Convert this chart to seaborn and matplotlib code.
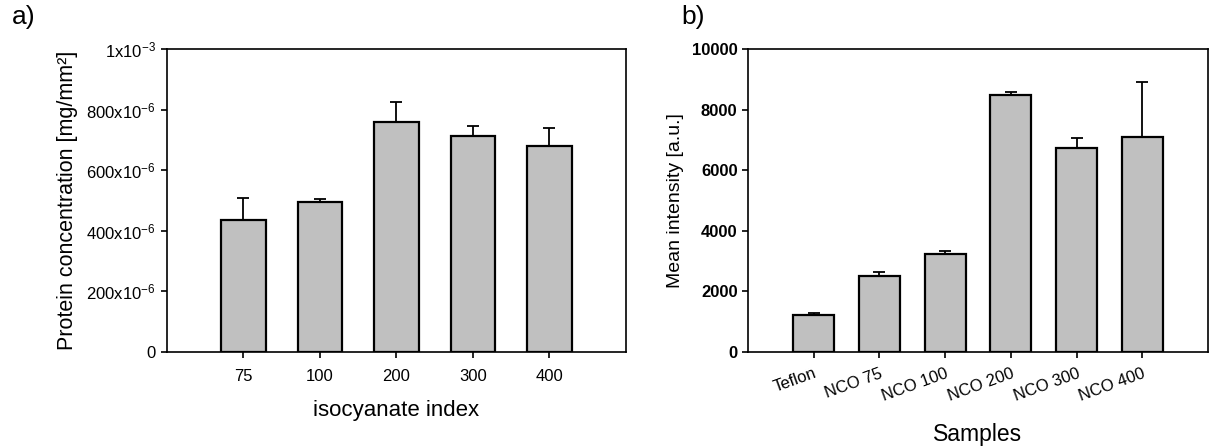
import matplotlib
matplotlib.use("Agg")
import matplotlib.pyplot as plt
import seaborn as sns
import numpy as np
import pandas as pd

# ---- data ----
iso_index = ["75", "100", "200", "300", "400"]
protein_conc = [437e-6, 495e-6, 760e-6, 712e-6, 680e-6]
protein_err = [72e-6, 9e-6, 64e-6, 35e-6, 58e-6]
protein_ticks = [0, 200e-6, 400e-6, 600e-6, 800e-6, 1e-3]
protein_ticklabels = ["0", "200x10$^{-6}$", "400x10$^{-6}$", "600x10$^{-6}$",
                      "800x10$^{-6}$", "1x10$^{-3}$"]

samples = ["Teflon", "NCO 75", "NCO 100", "NCO 200", "NCO 300", "NCO 400"]
intensity = [1232, 2520, 3245, 8480, 6720, 7107]
intensity_err = [55, 110, 100, 110, 352, 1815]
intensity_ticks = [0, 2000, 4000, 6000, 8000, 10000]

sns.set_style("white")
plt.rcParams["font.family"] = ["Liberation Sans", "DejaVu Sans"]
plt.rcParams["mathtext.default"] = "regular"
for k in ("text.color", "axes.labelcolor", "xtick.color", "ytick.color"):
    plt.rcParams[k] = "black"

BAR = "#c0c0c0"
fig = plt.figure(figsize=(12.11, 4.46), dpi=100)
ax1 = fig.add_axes([0.1379, 0.2108, 0.3790, 0.6794])
ax2 = fig.add_axes([0.6177, 0.2108, 0.3798, 0.6794])

# ---- panel a ----
df1 = pd.DataFrame({"idx": iso_index, "val": protein_conc})
sns.barplot(data=df1, x="idx", y="val", color=BAR, saturation=1, width=0.58,
            edgecolor="black", linewidth=1.6, errorbar=None, ax=ax1)
pos1 = np.arange(len(iso_index))
ax1.errorbar(pos1, protein_conc, yerr=[np.zeros(len(pos1)), protein_err],
             fmt="none", ecolor="black", elinewidth=1.3, capsize=4.5, capthick=1.3)
ax1.set_xlim(-1, 5)
ax1.set_ylim(0, 1e-3)
ax1.set_yticks(protein_ticks)
ax1.set_yticklabels(protein_ticklabels)
ax1.set_xlabel("isocyanate index", fontsize=16, labelpad=12)
ax1.set_ylabel("Protein concentration [mg/mm²]", fontsize=15.5, labelpad=6)
ax1.tick_params(axis="both", direction="out", length=4, width=1.2, labelsize=12,
                bottom=True, left=True, pad=4)
ax1.tick_params(axis="x", pad=8)

# ---- panel b ----
df2 = pd.DataFrame({"s": samples, "val": intensity})
sns.barplot(data=df2, x="s", y="val", color=BAR, saturation=1, width=0.62,
            edgecolor="black", linewidth=1.6, errorbar=None, ax=ax2)
pos2 = np.arange(len(samples))
ax2.errorbar(pos2, intensity, yerr=[np.zeros(len(pos2)), intensity_err],
             fmt="none", ecolor="black", elinewidth=1.3, capsize=4.5, capthick=1.3)
ax2.set_xlim(-1, 6)
ax2.set_ylim(0, 10000)
ax2.set_yticks(intensity_ticks)
ax2.set_yticklabels([str(t) for t in intensity_ticks], fontweight="bold")
ax2.set_xticks(pos2)
ax2.set_xticklabels(samples, rotation=20, ha="right", rotation_mode="anchor",
                    fontsize=12.5)
ax2.set_xlabel("Samples", fontsize=16.5, labelpad=14)
ax2.set_ylabel("Mean intensity [a.u.]", fontsize=14, labelpad=6)
ax2.tick_params(axis="both", direction="out", length=4, width=1.2, labelsize=12,
                bottom=True, left=True)
ax2.tick_params(axis="x", pad=6)

for ax in (ax1, ax2):
    for sp in ax.spines.values():
        sp.set_visible(True)
        sp.set_color("black")
        sp.set_linewidth(1.2)

fig.text(0.010, 0.962, "a)", fontsize=19, ha="left", va="center")
fig.text(0.563, 0.962, "b)", fontsize=19, ha="left", va="center")

fig.savefig("out.png", dpi=100)
